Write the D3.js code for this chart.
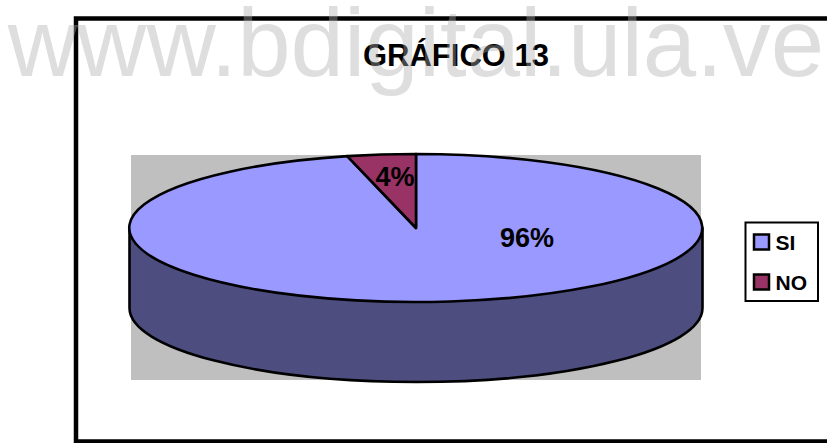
<!DOCTYPE html>
<html><head><meta charset="utf-8">
<script src="https://cdnjs.cloudflare.com/ajax/libs/d3/7.8.5/d3.min.js"></script>
<style>html,body{margin:0;padding:0;background:#fff}svg{display:block}text{font-family:"Liberation Sans",Arial,sans-serif}</style>
</head><body><svg id="c" width="827" height="443"></svg>
<script>
const categories = ["SI", "NO"];
const values = [96.15, 3.85];
const labels = ["96%", "4%"];
const topColors = ["#9999ff", "#993366"];
const sideColor = "#4d4d80";
const title = "GRÁFICO 13";
const watermark = "www.bdigital.ula.ve";

const svg = d3.select("#c");
const cx = 416, cy = 228, rx = 286.5, ry = 74, depth = 80;

// frame
svg.append("rect").attr("x",76).attr("y",18.5).attr("width",800).attr("height",423)
  .attr("fill","#fff").attr("stroke","#000").attr("stroke-width",4.5);
// plot area
svg.append("rect").attr("x",131).attr("y",155).attr("width",570).attr("height",225).attr("fill","#bfbfbf");

svg.append("text").attr("x",456).attr("y",66).attr("text-anchor","middle")
  .attr("font-size",31).attr("font-weight","bold").attr("fill","#000").text(title);

// pie side wall
const wall = d3.path();
wall.moveTo(cx-rx,cy);
wall.lineTo(cx-rx,cy+depth);
wall.bezierCurveTo(cx-rx,cy+depth+ry*0.5523,cx-rx*0.5523,cy+depth+ry,cx,cy+depth+ry);
wall.bezierCurveTo(cx+rx*0.5523,cy+depth+ry,cx+rx,cy+depth+ry*0.5523,cx+rx,cy+depth);
wall.lineTo(cx+rx,cy);
wall.closePath();
svg.append("path").attr("d",wall.toString()).attr("fill",sideColor)
  .attr("stroke","#000").attr("stroke-width",2.6).attr("stroke-linejoin","round");

// pie top
const pie = d3.pie().sort(null)(values);
const arc = d3.arc().innerRadius(0).outerRadius(1);
svg.append("g").attr("transform",`translate(${cx},${cy}) scale(${rx},${ry})`)
  .selectAll("path").data(pie).join("path")
  .attr("d",arc).attr("fill",(d,i)=>topColors[i])
  .attr("stroke","#000").attr("stroke-width",2.6).attr("stroke-linejoin","round")
  .attr("vector-effect","non-scaling-stroke");

// data labels
const labelPos = [[527,247],[395,186]];
svg.selectAll("text.lab").data(labels).join("text").attr("class","lab")
  .attr("x",(d,i)=>labelPos[i][0]).attr("y",(d,i)=>labelPos[i][1])
  .attr("text-anchor","middle").attr("font-size",27).attr("font-weight","bold").attr("fill","#000").text(d=>d);

// legend
const lg = svg.append("g");
lg.append("rect").attr("x",745.5).attr("y",222.5).attr("width",72.5).attr("height",78.5)
  .attr("fill","#fff").attr("stroke","#000").attr("stroke-width",2);
const ly = d3.scalePoint().domain(categories).range([242,282]);
categories.forEach((c,i)=>{
  lg.append("rect").attr("x",754).attr("y",ly(c)-7.5).attr("width",15).attr("height",15)
    .attr("fill",topColors[i]).attr("stroke","#000").attr("stroke-width",2.5);
  lg.append("text").attr("x",775.5).attr("y",ly(c)+8).attr("font-size",21).attr("font-weight","bold").attr("fill","#000").text(c);
});

// watermark overlay
svg.append("text").attr("x",416).attr("y",76).attr("text-anchor","middle")
  .attr("font-size",96).attr("fill","#adadad").attr("fill-opacity",0.4).text(watermark);
</script></body></html>
